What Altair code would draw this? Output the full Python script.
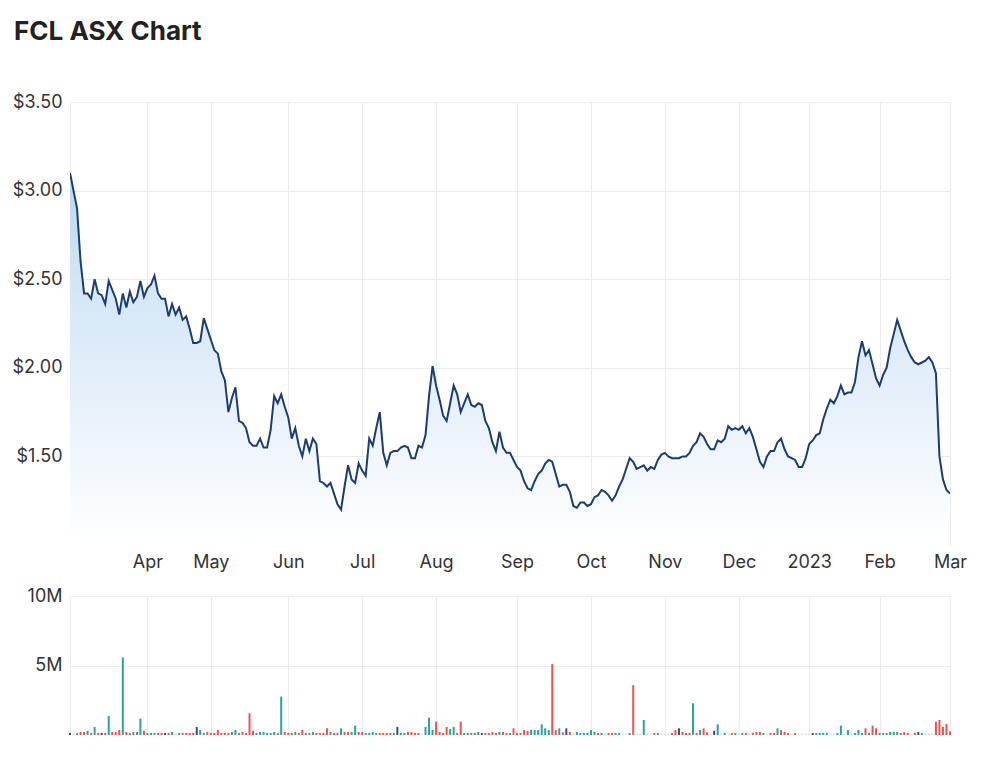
import altair as alt
import pandas as pd

# ---- data ----
prices = [
    3.10, 3.00, 2.90, 2.60, 2.42, 2.42, 2.39, 2.50, 2.42, 2.41,
    2.36, 2.49, 2.44, 2.39, 2.30, 2.42, 2.34, 2.43, 2.37, 2.40,
    2.49, 2.40, 2.45, 2.47, 2.52, 2.42, 2.39, 2.39, 2.29, 2.36,
    2.30, 2.34, 2.27, 2.29, 2.22, 2.14, 2.14, 2.15, 2.28, 2.22,
    2.16, 2.10, 2.08, 1.98, 1.93, 1.75, 1.83, 1.89, 1.70, 1.69,
    1.66, 1.58, 1.56, 1.56, 1.60, 1.55, 1.55, 1.65, 1.84, 1.80,
    1.85, 1.78, 1.72, 1.60, 1.66, 1.56, 1.50, 1.60, 1.53, 1.60,
    1.57, 1.36, 1.35, 1.33, 1.35, 1.29, 1.23, 1.20, 1.33, 1.45,
    1.37, 1.35, 1.46, 1.42, 1.39, 1.60, 1.56, 1.66, 1.75, 1.52,
    1.45, 1.52, 1.53, 1.53, 1.55, 1.56, 1.55, 1.49, 1.49, 1.56,
    1.55, 1.62, 1.84, 2.01, 1.90, 1.82, 1.73, 1.70, 1.80, 1.90,
    1.85, 1.75, 1.80, 1.85, 1.79, 1.78, 1.80, 1.79, 1.70, 1.66,
    1.58, 1.53, 1.64, 1.55, 1.52, 1.52, 1.48, 1.44, 1.42, 1.36,
    1.32, 1.31, 1.36, 1.40, 1.42, 1.46, 1.48, 1.47, 1.40, 1.33,
    1.34, 1.34, 1.30, 1.22, 1.21, 1.24, 1.24, 1.22, 1.23, 1.27,
    1.28, 1.31, 1.30, 1.28, 1.25, 1.28, 1.33, 1.37, 1.43, 1.49,
    1.47, 1.43, 1.44, 1.45, 1.42, 1.44, 1.43, 1.48, 1.51, 1.52,
    1.50, 1.49, 1.49, 1.49, 1.50, 1.50, 1.52, 1.56, 1.58, 1.63,
    1.61, 1.57, 1.54, 1.54, 1.59, 1.58, 1.60, 1.67, 1.65, 1.66,
    1.65, 1.67, 1.63, 1.66, 1.61, 1.54, 1.47, 1.44, 1.50, 1.53,
    1.53, 1.58, 1.60, 1.54, 1.50, 1.49, 1.48, 1.44, 1.44, 1.49,
    1.57, 1.59, 1.62, 1.63, 1.71, 1.77, 1.82, 1.80, 1.84, 1.90,
    1.85, 1.86, 1.86, 1.92, 2.06, 2.15, 2.07, 2.10, 2.02, 1.94,
    1.90, 1.96, 2.00, 2.11, 2.19, 2.27, 2.21, 2.15, 2.10, 2.06,
    2.03, 2.02, 2.03, 2.04, 2.06, 2.03, 1.97, 1.50, 1.37, 1.31,
    1.29,
]

# volume in millions of shares
volumes_m = [
    0.15, 0.10, 0.15, 0.22, 0.22, 0.30, 0.15, 0.58, 0.15, 0.15,
    0.15, 1.37, 0.22, 0.22, 0.36, 5.58, 0.22, 0.15, 0.22, 0.22,
    1.18, 0.30, 0.15, 0.15, 0.15, 0.15, 0.15, 0.15, 0.15, 0.22,
    0.10, 0.15, 0.15, 0.15, 0.15, 0.15, 0.58, 0.36, 0.15, 0.22,
    0.15, 0.15, 0.36, 0.15, 0.15, 0.15, 0.22, 0.36, 0.15, 0.22,
    0.15, 1.56, 0.30, 0.15, 0.22, 0.22, 0.15, 0.15, 0.22, 0.15,
    2.76, 0.22, 0.15, 0.15, 0.22, 0.15, 0.36, 0.15, 0.15, 0.22,
    0.15, 0.15, 0.15, 0.48, 0.22, 0.15, 0.15, 0.48, 0.22, 0.22,
    0.22, 0.67, 0.22, 0.22, 0.15, 0.15, 0.22, 0.15, 0.15, 0.15,
    0.15, 0.15, 0.15, 0.58, 0.15, 0.15, 0.22, 0.22, 0.15, 0.15,
    0.10, 0.58, 1.25, 0.36, 0.96, 0.22, 0.15, 0.58, 0.43, 0.58,
    0.15, 0.96, 0.15, 0.15, 0.15, 0.15, 0.22, 0.15, 0.15, 0.15,
    0.22, 0.15, 0.22, 0.22, 0.15, 0.15, 0.48, 0.15, 0.15, 0.36,
    0.30, 0.36, 0.36, 0.36, 0.77, 0.48, 0.36, 5.10, 0.36, 0.48,
    0.20, 0.48, 0.22, 0.12, 0.22, 0.15, 0.15, 0.15, 0.36, 0.22,
    0.15, 0.15, 0.10, 0.15, 0.15, 0.15, 0.15, 0.10, 0.10, 0.15,
    3.58, 0.10, 0.10, 1.08, 0.10, 0.10, 0.15, 0.15, 0.10, 0.10,
    0.10, 0.15, 0.36, 0.48, 0.22, 0.15, 0.15, 2.28, 0.15, 0.36,
    0.48, 0.20, 0.10, 0.30, 0.77, 0.10, 0.15, 0.10, 0.15, 0.15,
    0.10, 0.15, 0.15, 0.10, 0.15, 0.22, 0.22, 0.15, 0.10, 0.15,
    0.15, 0.48, 0.36, 0.22, 0.15, 0.10, 0.15, 0.10, 0.10, 0.10,
    0.10, 0.15, 0.15, 0.15, 0.15, 0.15, 0.10, 0.10, 0.15, 0.67,
    0.10, 0.36, 0.10, 0.15, 0.36, 0.15, 0.48, 0.15, 0.67, 0.48,
    0.15, 0.15, 0.15, 0.22, 0.22, 0.22, 0.15, 0.22, 0.15, 0.10,
    0.15, 0.22, 0.15, 0.10, 0.10, 0.10, 0.96, 1.08, 0.58, 0.79,
    0.25,
]

# bar colour class per day: u = up, d = down, n = unchanged, p = pale
vol_dir_rows = [
    "n p d d d u d u d n",
    "d u d d d u d u d u",
    "u d u u u d d n d u",
    "p u d d d d n u u d",
    "d d d d d d u u d d",
    "d d d u u u u u u d",
    "u d d d u d d u d u",
    "d d d d u d d u d d",
    "u u d d u u u u d d",
    "d d u n u u d d d d",
    "p u u u d d d d u u",
    "d d u u d u u n d d",
    "d d u d d u d d d d",
    "d u u u u u u d d u",
    "d n d p u u u u u u",
    "d u p d d u u p p u",
    "d p p u p p d u p p",
    "p d d n d d d u d u",
    "d d p n u p u p d u",
    "p u d p d d d u p d",
    "d u d d d p d p p p",
    "p n u u u u p p u u",
    "p u p u u u d u d d",
    "u u d u u u d d d p",
    "d n u p p p d d d d",
    "d",
]
vol_dir = [c for row in vol_dir_rows for c in row.split()]

month_days = [0, 22, 40, 62, 83, 104, 127, 148, 169, 190, 210, 230, 250]
month_labels = ["", "Apr", "May", "Jun", "Jul", "Aug", "Sep", "Oct", "Nov",
                "Dec", "2023", "Feb", "Mar"]

price_ticks = [1.5, 2.0, 2.5, 3.0, 3.5]
price_floor = 1.0
volume_ticks = [5, 10]

# ---- build ----
days = list(range(len(prices)))
price_df = pd.DataFrame({"day": days, "price": prices})
vol_df = pd.DataFrame({"day": days, "vol": volumes_m, "dir": vol_dir[:len(days)]})

label_expr = "".join(
    f"datum.value == {d} ? '{lab}' : " for d, lab in zip(month_days, month_labels)
) + "''"

FONT = "Inter"
GRID = "#ebebeb"
LABEL = "#333333"
FS = 18

x_price = alt.X(
    "day:Q", scale=alt.Scale(domain=[0, 250], nice=False, zero=False, padding=0),
    axis=alt.Axis(values=month_days, labelExpr=label_expr, title=None, grid=True,
                  gridColor=GRID, domain=False, ticks=False, labelFontSize=FS,
                  labelColor=LABEL, labelFont=FONT, labelPadding=8,
                  labelFlush=False, labelOverlap=False),
)
y_price = alt.Y(
    "price:Q", scale=alt.Scale(domain=[price_floor, 3.5], nice=False, zero=False),
    axis=alt.Axis(values=price_ticks, format="$.2f", title=None, grid=True,
                  gridColor=GRID, domain=False, ticks=False, labelFontSize=FS,
                  labelColor=LABEL, labelFont=FONT, labelPadding=8),
)

area = alt.Chart(price_df).mark_area(
    color=alt.Gradient(
        gradient="linear",
        stops=[alt.GradientStop(color="#ffffff", offset=0),
               alt.GradientStop(color="#e9f2fb", offset=0.35),
               alt.GradientStop(color="#d4e6f6", offset=0.7),
               alt.GradientStop(color="#bad7f0", offset=1)],
        x1=1, x2=1, y1=1, y2=0,
    ),
    clip=True,
).encode(x=x_price, y=y_price, y2=alt.Y2(datum=price_floor))

line = alt.Chart(price_df).mark_line(color="#1c3d72", strokeWidth=2, clip=True).encode(
    x=x_price, y=y_price
)

price_chart = alt.layer(area, line).properties(width=880, height=443)

bars = alt.Chart(vol_df).mark_bar(size=2).encode(
    x=alt.X("day:Q", scale=alt.Scale(domain=[0, 250], nice=False, zero=False, padding=0),
            axis=alt.Axis(values=month_days, labels=False, title=None, grid=True,
                          gridColor=GRID, domain=False, ticks=False)),
    y=alt.Y("vol:Q", scale=alt.Scale(domain=[0, 10], nice=False),
            axis=alt.Axis(values=volume_ticks, labelExpr="datum.value + 'M'",
                          title=None, grid=True, gridColor=GRID, domain=False,
                          ticks=False, labelFontSize=FS, labelColor=LABEL,
                          labelFont=FONT, labelPadding=8)),
    color=alt.Color("dir:N",
                    scale=alt.Scale(domain=["u", "d", "n", "p"],
                                    range=["#26a69a", "#ef5350", "#2f4f80", "#c6e2e4"]),
                    legend=None),
).properties(width=880, height=139)

chart = alt.vconcat(price_chart, bars, spacing=16).properties(
    title=alt.TitleParams("FCL ASX Chart", anchor="start", font=FONT, fontSize=26,
                          fontWeight="bold", color="#222222", offset=48, dx=2),
    padding={"left": 12, "top": 19, "right": 20, "bottom": 10},
    background="white",
).configure_view(stroke=None)

chart.save("out.html", embed_options={"renderer": "svg", "actions": False})
